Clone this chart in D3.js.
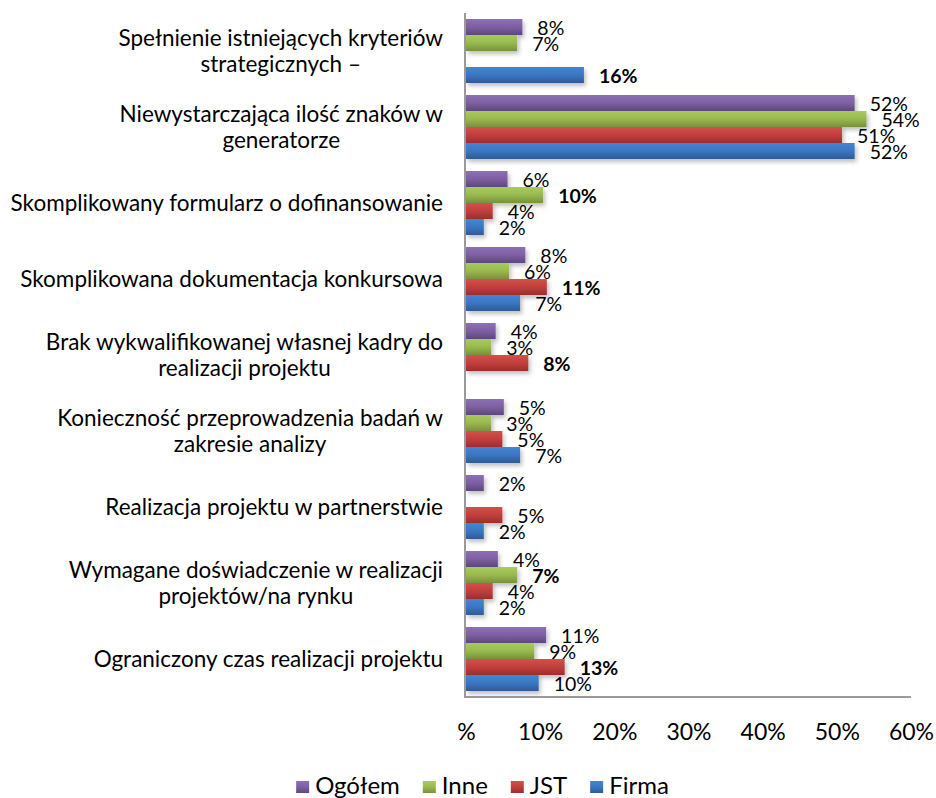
<!DOCTYPE html>
<html>
<head>
<meta charset="utf-8">
<script src="https://cdn.jsdelivr.net/npm/d3@7"></script>
<style>
  html, body { margin: 0; padding: 0; background: #fff; }
  svg { display: block; font-family: Lato, "Open Sans", sans-serif; }
</style>
</head>
<body>
<svg id="chart" width="936" height="798"></svg>
<script>
// ---- data ----
const categories = [
  "Spełnienie istniejących kryteriów|strategicznych –",
  "Niewystarczająca ilość znaków w|generatorze",
  "Skomplikowany formularz o dofinansowanie",
  "Skomplikowana dokumentacja konkursowa",
  "Brak wykwalifikowanej własnej kadry do|realizacji projektu",
  "Konieczność przeprowadzenia badań w|zakresie analizy",
  "Realizacja projektu w partnerstwie",
  "Wymagane doświadczenie w realizacji|projektów/na rynku",
  "Ograniczony czas realizacji projektu"
];
const seriesNames = ["Ogółem", "Inne", "JST", "Firma"];
const ogolem = [7.6, 52.4, 5.6, 8.0, 4.0, 5.1, 2.4, 4.3, 10.8];
const inne   = [6.9, 54.0, 10.4, 5.8, 3.4, 3.4, null, 6.9, 9.2];
const jst    = [null, 50.7, 3.6, 10.9, 8.4, 4.9, 4.9, 3.6, 13.3];
const firma  = [15.9, 52.4, 2.4, 7.3, null, 7.3, 2.4, 2.4, 9.8];
const boldLabels = [[0, "Firma"], [2, "Inne"], [3, "JST"], [4, "JST"], [7, "Inne"], [8, "JST"]];
const tickValues = [0, 10, 20, 30, 40, 50, 60];
const tickLabels = ["%", "10%", "20%", "30%", "40%", "50%", "60%"];

// ---- styles ----
const colors = {
  "Ogółem": ["#8d70b5", "#7d5fa3", "#5e4680"],
  "Inne":   ["#a9cc5c", "#98b94f", "#76923a"],
  "JST":    ["#d4504b", "#c0403c", "#9c2e2b"],
  "Firma":  ["#4286d4", "#3a77c0", "#2c5b96"]
};

const seriesValues = { "Ogółem": ogolem, "Inne": inne, "JST": jst, "Firma": firma };

const svg = d3.select("#chart");
const defs = svg.append("defs");

seriesNames.forEach((s, i) => {
  const g = defs.append("linearGradient").attr("id", "grad" + i)
    .attr("x1", 0).attr("y1", 0).attr("x2", 0).attr("y2", 1);
  g.append("stop").attr("offset", "0%").attr("stop-color", colors[s][0]);
  g.append("stop").attr("offset", "50%").attr("stop-color", colors[s][1]);
  g.append("stop").attr("offset", "100%").attr("stop-color", colors[s][2]);
});
const f = defs.append("filter").attr("id", "shadow")
  .attr("x", "-10%").attr("y", "-20%").attr("width", "130%").attr("height", "160%");
f.append("feDropShadow").attr("dx", 2).attr("dy", 3).attr("stdDeviation", 2)
  .attr("flood-color", "#000").attr("flood-opacity", 0.25);

// ---- scales ----
const x = d3.scaleLinear().domain([0, 60]).range([466, 911]);
const y = d3.scaleBand().domain(d3.range(categories.length)).range([13, 697])
  .paddingInner(12 / 76).paddingOuter(6 / 76);
const ys = d3.scaleBand().domain(seriesNames).range([0, y.bandwidth()]);

// ---- bars ----
const rows = [];
categories.forEach((c, ci) => {
  seriesNames.forEach((s, si) => {
    const v = seriesValues[s][ci];
    if (v != null) rows.push({ ci, s, si, v });
  });
});

svg.append("g").attr("filter", "url(#shadow)")
  .selectAll("rect").data(rows).join("rect")
  .attr("x", x(0))
  .attr("y", d => y(d.ci) + ys(d.s))
  .attr("width", d => x(d.v) - x(0))
  .attr("height", ys.bandwidth())
  .attr("fill", d => "url(#grad" + d.si + ")");

// ---- data labels ----
const isBold = d => boldLabels.some(b => b[0] === d.ci && b[1] === d.s);
svg.append("g").selectAll("text").data(rows).join("text")
  .attr("x", d => x(d.v) + 15)
  .attr("y", d => y(d.ci) + ys(d.s) + ys.bandwidth() / 2 + 8)
  .attr("font-size", 19.5)
  .attr("font-weight", d => isBold(d) ? "bold" : "normal")
  .attr("fill", "#000")
  .text(d => Math.round(d.v) + "%");

// ---- axes lines ----
svg.append("line").attr("x1", x(0) - 1).attr("x2", x(0) - 1)
  .attr("y1", y.range()[0]).attr("y2", y.range()[1] + 1)
  .attr("stroke", "#9a9a9a").attr("stroke-width", 2);
svg.append("line").attr("x1", x(0) - 2).attr("x2", x(60))
  .attr("y1", y.range()[1]).attr("y2", y.range()[1])
  .attr("stroke", "#9a9a9a").attr("stroke-width", 2);

// ---- x axis tick labels ----
const xAxis = d3.axisBottom(x).tickValues(tickValues)
  .tickFormat((d, i) => tickLabels[i]).tickSize(0).tickPadding(0);
const ax = svg.append("g").attr("transform", "translate(0,740)").call(xAxis);
ax.select(".domain").remove();
ax.selectAll("text").attr("font-size", 23).attr("font-family", "Lato, sans-serif")
  .attr("fill", "#000").attr("dy", 0);

// ---- category labels ----
const catG = svg.append("g");
const rightEdge = 443;
categories.forEach((c, ci) => {
  const lines = c.split("|");
  const cy = y(ci) + y.bandwidth() / 2;
  const lh = 26;
  const t = catG.append("text").attr("font-size", 22.5).attr("fill", "#000")
    .attr("text-anchor", "middle");
  const spans = lines.map((l, li) => t.append("tspan").text(l)
    .attr("y", cy + (li - (lines.length - 1) / 2) * lh + 7.5));
  let maxW = 0;
  spans.forEach(sp => { maxW = Math.max(maxW, sp.node().getComputedTextLength()); });
  spans.forEach(sp => sp.attr("x", rightEdge - maxW / 2));
});

// ---- legend ----
const lg = svg.append("g");
let lx = 0;
seriesNames.forEach((s, i) => {
  const g = lg.append("g");
  g.append("rect").attr("x", lx).attr("y", 781).attr("width", 13).attr("height", 12)
    .attr("fill", "url(#grad" + i + ")");
  const t = g.append("text").attr("x", lx + 19).attr("y", 794).attr("font-size", 24)
    .attr("fill", "#000").text(s);
  lx += 19 + t.node().getComputedTextLength() + 23;
});
const totalW = lx - 23;
lg.attr("transform", "translate(" + (482.5 - totalW / 2) + ",0)");
</script>
</body>
</html>
